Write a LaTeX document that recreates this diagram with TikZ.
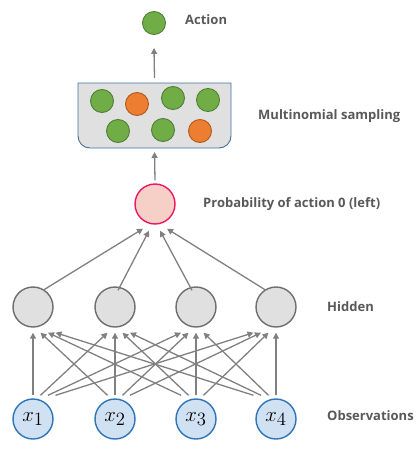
\documentclass[tikz,border=0pt]{standalone}
\usepackage{fontspec}
\usepackage{graphicx}
\setmainfont{Open Sans}
\usetikzlibrary{arrows.meta,calc}
\definecolor{lbl}{HTML}{595959}
\definecolor{arr}{HTML}{808080}
\definecolor{obsfill}{HTML}{CFE1F3}
\definecolor{obsline}{HTML}{2E75B6}
\definecolor{hidfill}{HTML}{E0E0E0}
\definecolor{hidline}{HTML}{6E6E6E}
\definecolor{pfill}{HTML}{F6CFC6}
\definecolor{pline}{HTML}{EC1763}
\definecolor{gfill}{HTML}{70AD47}
\definecolor{gline}{HTML}{507E32}
\definecolor{ofill}{HTML}{ED7D31}
\definecolor{oline}{HTML}{AE5A21}
\definecolor{boxfill}{HTML}{E0E0E0}
\definecolor{boxline}{HTML}{41719C}
\begin{document}
\begin{tikzpicture}[x=1pt,y=-1pt,
  lab/.style={anchor=west,text=lbl,font=\fontsize{13}{15}\selectfont\bfseries,inner sep=0pt},
  obs/.style={circle,draw=obsline,fill=obsfill,line width=1.4pt,minimum size=40pt,inner sep=0pt,font=\fontsize{21}{21}\selectfont},
  hid/.style={circle,draw=hidline,fill=hidfill,line width=1.4pt,minimum size=40pt,inner sep=0pt},
  prob/.style={circle,draw=pline,fill=pfill,line width=1.4pt,minimum size=40pt,inner sep=0pt},
  gball/.style={circle,draw=gline,fill=gfill,line width=0.9pt,minimum size=23pt,inner sep=0pt},
  oball/.style={circle,draw=oline,fill=ofill,line width=0.9pt,minimum size=23pt,inner sep=0pt},
  con/.style={draw=arr,line width=1.3pt,-{Triangle[length=6pt,width=6pt]}}
]
\useasboundingbox (0,0) rectangle (416,452);
% box
\path[draw=boxline,fill=boxfill,line width=0.9pt]
  (78,83) -- (78,136) arc[start angle=180,end angle=90,radius=12] -- (219,148)
  arc[start angle=90,end angle=0,radius=12] -- (231,83) -- cycle;
\coordinate (boxtop) at (154.5,83);
\coordinate (boxbot) at (154.5,148);
% balls
\node[gball] (b1) at (102,101) {};
\node[oball] (b2) at (137,104) {};
\node[gball] (b3) at (173,98) {};
\node[gball] (b4) at (208,100) {};
\node[gball] (b5) at (118,131) {};
\node[gball] (b6) at (163,130) {};
\node[oball] (b7) at (200,131) {};
% action
\node[gball] (act) at (154,23) {};
\node[lab] (lact) at (185,20) {Action};
\node[lab] (lms) at (258,116) {Multinomial sampling};
% prob
\node[prob] (p) at (155,204) {};
\node[lab] (lp) at (203,204) {Probability of action 0 (left)};
% hidden
\foreach \i/\x in {1/33,2/115,3/196,4/276}{
  \node[hid] (h\i) at (\x,307) {};
  \node[obs] (o\i) at (\x,419) {$x_{\scalebox{1.3}{$\scriptstyle\i$}}$};
}
\node[lab] (lh) at (327,307) {Hidden};
\node[lab] (lo) at (327,416) {Observations};
% connectors
\draw[con] ($(boxtop)+(0,-5)$) -- ($(act.south)+(0,13)$);
\draw[con] ($(p.north)+(0,-3)$) -- ($(boxbot)+(0,4)$);
\draw[con] ($(h1.north)+(10,4)$) -- ($(p.south)+(-12,4)$);
\draw[con] ($(h2.north)+(3,4)$) -- ($(p.south)+(-6,6)$);
\draw[con] ($(h3.north)+(-4,4)$) -- ($(p.south)+(5,6)$);
\draw[con] ($(h4.north)+(-10,4)$) -- ($(p.south)+(12,4)$);
\foreach \i in {1,...,4}{
  \foreach \j in {1,...,4}{
    \draw[con] ($(o\i.north)+({7.5*(\j-\i)},-3)$) -- ($(h\j.south)+({7.5*(\i-\j)},5)$);
  }
}
\end{tikzpicture}
\end{document}
